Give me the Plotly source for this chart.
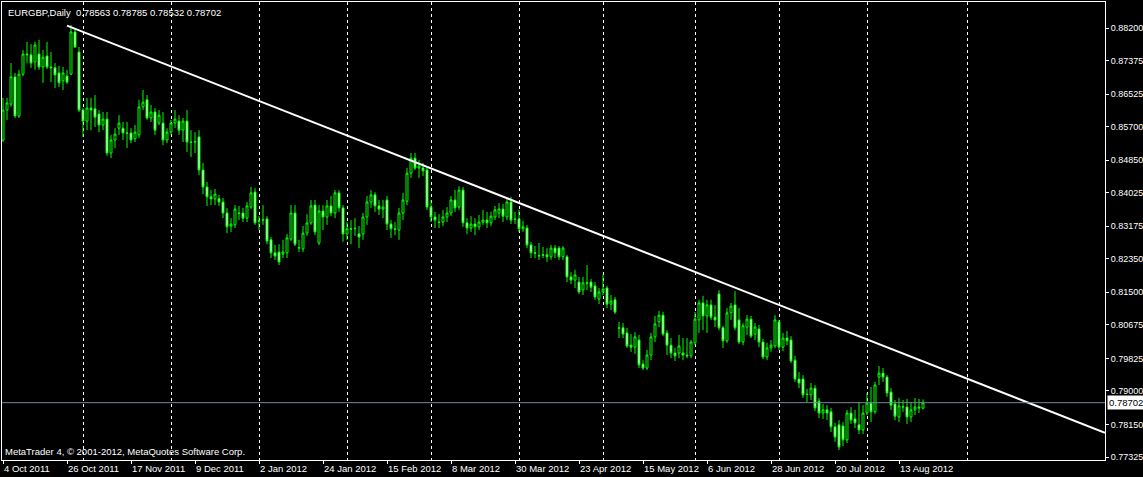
import pandas as pd
import plotly.graph_objects as go

symbol = "EURGBP,Daily"
first_date = "2011-10-04"

open_ = [
    0.8536, 0.8612, 0.8627, 0.8696, 0.8597, 0.8703, 0.8754, 0.8752, 0.8734, 0.8754,
    0.8721, 0.8749, 0.8721, 0.8719, 0.8706, 0.8686, 0.8698, 0.8703, 0.8810, 0.8759,
    0.8612, 0.8584, 0.8617, 0.8615, 0.8602, 0.8574, 0.8589, 0.8503, 0.8536, 0.8566,
    0.8566, 0.8554, 0.8554, 0.8539, 0.8549, 0.8620, 0.8638, 0.8592, 0.8607, 0.8579,
    0.8579, 0.8536, 0.8556, 0.8579, 0.8584, 0.8561, 0.8584, 0.8531, 0.8531, 0.8544,
    0.8460, 0.8417, 0.8392, 0.8387, 0.8387, 0.8379, 0.8351, 0.8318, 0.8321, 0.8351,
    0.8351, 0.8338, 0.8366, 0.8404, 0.8331, 0.8333, 0.8336, 0.8283, 0.8250, 0.8252,
    0.8247, 0.8250, 0.8285, 0.8351, 0.8262, 0.8260, 0.8300, 0.8326, 0.8371, 0.8275,
    0.8356, 0.8341, 0.8369, 0.8351, 0.8402, 0.8364, 0.8298, 0.8311, 0.8311, 0.8298,
    0.8298, 0.8341, 0.8379, 0.8397, 0.8369, 0.8361, 0.8384, 0.8323, 0.8311, 0.8308,
    0.8351, 0.8381, 0.8452, 0.8490, 0.8465, 0.8465, 0.8460, 0.8366, 0.8341, 0.8328,
    0.8328, 0.8341, 0.8351, 0.8384, 0.8366, 0.8409, 0.8326, 0.8313, 0.8323, 0.8316,
    0.8328, 0.8333, 0.8326, 0.8341, 0.8351, 0.8361, 0.8341, 0.8379, 0.8336, 0.8336,
    0.8311, 0.8313, 0.8270, 0.8250, 0.8242, 0.8245, 0.8245, 0.8240, 0.8262, 0.8262,
    0.8240, 0.8240, 0.8189, 0.8181, 0.8176, 0.8156, 0.8174, 0.8176, 0.8166, 0.8133,
    0.8151, 0.8161, 0.8120, 0.8131, 0.8060, 0.8060, 0.8047, 0.8016, 0.8011, 0.8029,
    0.7968, 0.7958, 0.7991, 0.8037, 0.8075, 0.8092, 0.8047, 0.8016, 0.7996, 0.7996,
    0.7996, 0.7991, 0.7989, 0.8022, 0.8080, 0.8123, 0.8090, 0.8118, 0.8087, 0.8146,
    0.8060, 0.8027, 0.8098, 0.8118, 0.8080, 0.8024, 0.8062, 0.8082, 0.8044, 0.8057,
    0.8024, 0.7986, 0.8009, 0.8014, 0.8075, 0.8011, 0.8034, 0.8029, 0.7978, 0.7930,
    0.7930, 0.7892, 0.7890, 0.7907, 0.7874, 0.7844, 0.7852, 0.7847, 0.7809, 0.7814,
    0.7811, 0.7776, 0.7844, 0.7829, 0.7814, 0.7801, 0.7844, 0.7869, 0.7847, 0.7935,
    0.7945, 0.7935, 0.7897, 0.7867, 0.7834, 0.7859, 0.7859, 0.7834, 0.7852, 0.7859,
    0.78563,
]

high = [
    0.8643, 0.8643, 0.8731, 0.8706, 0.8714, 0.8764, 0.8785, 0.8779, 0.8785, 0.8790,
    0.8764, 0.8785, 0.8759, 0.8731, 0.8724, 0.8721, 0.8714, 0.8828, 0.8820, 0.8772,
    0.8617, 0.8643, 0.8643, 0.8650, 0.8612, 0.8607, 0.8607, 0.8549, 0.8566, 0.8599,
    0.8582, 0.8582, 0.8566, 0.8574, 0.8638, 0.8663, 0.8650, 0.8625, 0.8617, 0.8612,
    0.8607, 0.8566, 0.8587, 0.8612, 0.8599, 0.8592, 0.8612, 0.8561, 0.8556, 0.8561,
    0.8478, 0.8430, 0.8409, 0.8412, 0.8397, 0.8389, 0.8364, 0.8338, 0.8371, 0.8369,
    0.8364, 0.8379, 0.8417, 0.8414, 0.8343, 0.8371, 0.8343, 0.8290, 0.8270, 0.8272,
    0.8283, 0.8298, 0.8371, 0.8371, 0.8283, 0.8318, 0.8348, 0.8384, 0.8384, 0.8371,
    0.8371, 0.8384, 0.8394, 0.8409, 0.8409, 0.8371, 0.8328, 0.8333, 0.8338, 0.8318,
    0.8351, 0.8394, 0.8409, 0.8404, 0.8384, 0.8384, 0.8394, 0.8333, 0.8328, 0.8364,
    0.8402, 0.8465, 0.8503, 0.8503, 0.8485, 0.8478, 0.8470, 0.8384, 0.8354, 0.8348,
    0.8359, 0.8366, 0.8394, 0.8409, 0.8419, 0.8417, 0.8338, 0.8343, 0.8338, 0.8346,
    0.8359, 0.8354, 0.8354, 0.8369, 0.8376, 0.8374, 0.8389, 0.8392, 0.8354, 0.8359,
    0.8331, 0.8321, 0.8278, 0.8267, 0.8275, 0.8265, 0.8262, 0.8270, 0.8270, 0.8267,
    0.8267, 0.8245, 0.8201, 0.8207, 0.8189, 0.8189, 0.8219, 0.8184, 0.8176, 0.8161,
    0.8196, 0.8166, 0.8143, 0.8138, 0.8075, 0.8072, 0.8060, 0.8044, 0.8049, 0.8042,
    0.7978, 0.8004, 0.8047, 0.8090, 0.8103, 0.8100, 0.8054, 0.8034, 0.8009, 0.8042,
    0.8034, 0.8034, 0.8029, 0.8100, 0.8131, 0.8141, 0.8131, 0.8131, 0.8118, 0.8156,
    0.8065, 0.8110, 0.8123, 0.8153, 0.8110, 0.8072, 0.8092, 0.8090, 0.8072, 0.8067,
    0.8032, 0.8022, 0.8029, 0.8092, 0.8080, 0.8047, 0.8052, 0.8039, 0.7989, 0.7948,
    0.7940, 0.7905, 0.7920, 0.7915, 0.7882, 0.7867, 0.7864, 0.7857, 0.7819, 0.7826,
    0.7821, 0.7852, 0.7859, 0.7852, 0.7872, 0.7864, 0.7895, 0.7910, 0.7923, 0.7963,
    0.7958, 0.7940, 0.7907, 0.7877, 0.7882, 0.7877, 0.7880, 0.7872, 0.7882, 0.7880,
    0.78785,
]

low = [
    0.8531, 0.8587, 0.8620, 0.8592, 0.8592, 0.8698, 0.8731, 0.8719, 0.8714, 0.8714,
    0.8681, 0.8716, 0.8683, 0.8668, 0.8670, 0.8663, 0.8678, 0.8701, 0.8769, 0.8607,
    0.8544, 0.8561, 0.8561, 0.8569, 0.8556, 0.8561, 0.8496, 0.8490, 0.8516, 0.8549,
    0.8536, 0.8516, 0.8528, 0.8531, 0.8541, 0.8612, 0.8587, 0.8582, 0.8549, 0.8574,
    0.8523, 0.8528, 0.8549, 0.8566, 0.8549, 0.8531, 0.8506, 0.8493, 0.8503, 0.8447,
    0.8399, 0.8369, 0.8371, 0.8371, 0.8369, 0.8338, 0.8300, 0.8303, 0.8313, 0.8333,
    0.8328, 0.8328, 0.8361, 0.8321, 0.8308, 0.8321, 0.8272, 0.8237, 0.8232, 0.8219,
    0.8237, 0.8237, 0.8280, 0.8267, 0.8252, 0.8252, 0.8293, 0.8321, 0.8295, 0.8270,
    0.8308, 0.8321, 0.8343, 0.8338, 0.8354, 0.8278, 0.8283, 0.8272, 0.8293, 0.8262,
    0.8283, 0.8321, 0.8364, 0.8354, 0.8346, 0.8338, 0.8308, 0.8288, 0.8295, 0.8283,
    0.8333, 0.8371, 0.8440, 0.8460, 0.8440, 0.8445, 0.8359, 0.8328, 0.8313, 0.8313,
    0.8318, 0.8328, 0.8343, 0.8354, 0.8359, 0.8316, 0.8298, 0.8303, 0.8295, 0.8308,
    0.8321, 0.8313, 0.8318, 0.8333, 0.8338, 0.8328, 0.8333, 0.8323, 0.8323, 0.8303,
    0.8303, 0.8262, 0.8237, 0.8237, 0.8232, 0.8237, 0.8227, 0.8232, 0.8237, 0.8232,
    0.8232, 0.8176, 0.8171, 0.8161, 0.8146, 0.8143, 0.8156, 0.8151, 0.8131, 0.8120,
    0.8143, 0.8110, 0.8105, 0.8095, 0.8034, 0.8034, 0.8009, 0.7999, 0.7994, 0.7958,
    0.7953, 0.7953, 0.7978, 0.8024, 0.8062, 0.8039, 0.7991, 0.7983, 0.7976, 0.7983,
    0.7978, 0.7983, 0.7983, 0.8016, 0.8047, 0.8054, 0.8047, 0.8080, 0.8062, 0.8054,
    0.8009, 0.8022, 0.8080, 0.8054, 0.8019, 0.8016, 0.8042, 0.8034, 0.8029, 0.8011,
    0.7981, 0.7978, 0.7999, 0.8009, 0.8004, 0.8001, 0.8016, 0.7971, 0.7923, 0.7907,
    0.7882, 0.7872, 0.7877, 0.7849, 0.7831, 0.7829, 0.7826, 0.7796, 0.7771, 0.7750,
    0.7760, 0.7768, 0.7816, 0.7806, 0.7791, 0.7791, 0.7839, 0.7821, 0.7842, 0.7915,
    0.7923, 0.7885, 0.7852, 0.7826, 0.7821, 0.7847, 0.7816, 0.7821, 0.7839, 0.7844,
    0.78532,
]

close = [
    0.8612, 0.8630, 0.8696, 0.8597, 0.8703, 0.8754, 0.8752, 0.8731, 0.8777, 0.8721,
    0.8746, 0.8721, 0.8719, 0.8701, 0.8681, 0.8706, 0.8683, 0.8810, 0.8772, 0.8612,
    0.8584, 0.8617, 0.8612, 0.8594, 0.8574, 0.8589, 0.8503, 0.8536, 0.8551, 0.8579,
    0.8554, 0.8553, 0.8536, 0.8556, 0.8620, 0.8632, 0.8592, 0.8607, 0.8561, 0.8599,
    0.8536, 0.8556, 0.8579, 0.8589, 0.8561, 0.8584, 0.8531, 0.8530, 0.8532, 0.8460,
    0.8417, 0.8392, 0.8387, 0.8399, 0.8379, 0.8351, 0.8316, 0.8323, 0.8361, 0.8350,
    0.8338, 0.8369, 0.8402, 0.8326, 0.8330, 0.8334, 0.8280, 0.8250, 0.8242, 0.8227,
    0.8252, 0.8288, 0.8351, 0.8272, 0.8263, 0.8300, 0.8326, 0.8369, 0.8303, 0.8356,
    0.8341, 0.8369, 0.8351, 0.8402, 0.8364, 0.8298, 0.8311, 0.8310, 0.8312, 0.8290,
    0.8341, 0.8379, 0.8397, 0.8369, 0.8361, 0.8366, 0.8323, 0.8311, 0.8310, 0.8351,
    0.8384, 0.8452, 0.8490, 0.8465, 0.8470, 0.8458, 0.8366, 0.8341, 0.8333, 0.8327,
    0.8341, 0.8351, 0.8384, 0.8364, 0.8409, 0.8326, 0.8313, 0.8323, 0.8316, 0.8328,
    0.8333, 0.8326, 0.8343, 0.8359, 0.8361, 0.8343, 0.8379, 0.8333, 0.8335, 0.8311,
    0.8316, 0.8270, 0.8250, 0.8249, 0.8243, 0.8244, 0.8240, 0.8262, 0.8250, 0.8240,
    0.8262, 0.8189, 0.8181, 0.8194, 0.8151, 0.8174, 0.8173, 0.8163, 0.8138, 0.8151,
    0.8158, 0.8120, 0.8128, 0.8100, 0.8059, 0.8044, 0.8014, 0.8011, 0.8037, 0.7966,
    0.7958, 0.7991, 0.8037, 0.8070, 0.8092, 0.8044, 0.8016, 0.7996, 0.7989, 0.8014,
    0.7991, 0.7989, 0.8024, 0.8082, 0.8123, 0.8090, 0.8118, 0.8087, 0.8080, 0.8060,
    0.8027, 0.8098, 0.8115, 0.8060, 0.8024, 0.8065, 0.8082, 0.8039, 0.8062, 0.8024,
    0.7986, 0.8009, 0.8016, 0.8080, 0.8011, 0.8034, 0.8027, 0.7976, 0.7930, 0.7920,
    0.7890, 0.7891, 0.7907, 0.7857, 0.7844, 0.7852, 0.7844, 0.7809, 0.7783, 0.7758,
    0.7776, 0.7844, 0.7826, 0.7819, 0.7801, 0.7844, 0.7869, 0.7847, 0.7915, 0.7945,
    0.7935, 0.7895, 0.7864, 0.7836, 0.7862, 0.7860, 0.7834, 0.7852, 0.7859, 0.7857,
    0.78702,
]

tick_labels = [
    "4 Oct 2011", "26 Oct 2011", "17 Nov 2011", "9 Dec 2011", "2 Jan 2012",
    "24 Jan 2012", "15 Feb 2012", "8 Mar 2012", "30 Mar 2012", "23 Apr 2012",
    "15 May 2012", "6 Jun 2012", "28 Jun 2012", "20 Jul 2012", "13 Aug 2012",
]

price_ticks = [0.88200, 0.87375, 0.86525, 0.85700, 0.84850, 0.84025, 0.83175,
               0.82350, 0.81500, 0.80675, 0.79825, 0.79000, 0.78150, 0.77325]

# trend line anchors (bar index, price)
trend_bars = [16, 275.5]
trend_prices = [0.8826, 0.7794]

copyright_text = "MetaTrader 4, \u00a9 2001-2012, MetaQuotes Software Corp."

# ---------------------------------------------------------------
n = len(close)
bars = list(range(n))
dates = pd.bdate_range(first_date, periods=n)

x_range = [-0.25, 275.5]
y_range = [0.77249, 0.88859]

# label positions: the bar whose date matches each label
date_to_bar = {f"{d.day} {d:%b %Y}": i for i, d in enumerate(dates)}
tick_bars = [date_to_bar[t] for t in tick_labels]

# month-start grid; a few future bars extrapolated by calendar day
all_dates = list(dates)
for k in range(1, 16):
    all_dates.append(dates[-1] + pd.Timedelta(days=k))
grid_bars = [i for i in range(1, len(all_dates))
             if all_dates[i].month != all_dates[i - 1].month]

LIME = "#00FF00"
FONT = "Liberation Sans, Arial, sans-serif"

fig = go.Figure()
fig.add_trace(go.Candlestick(
    x=bars, open=open_, high=high, low=low, close=close,
    increasing=dict(line=dict(color=LIME, width=1), fillcolor="#000000"),
    decreasing=dict(line=dict(color=LIME, width=1), fillcolor="#FFFFFF"),
    whiskerwidth=0, hoverinfo="skip", showlegend=False,
))
fig.add_trace(go.Scatter(
    x=trend_bars, y=trend_prices, mode="lines",
    line=dict(color="#FFFFFF", width=2), hoverinfo="skip", showlegend=False,
))

last_c = close[-1]
fig.add_shape(type="line", xref="paper", x0=0, x1=1, yref="y", y0=last_c, y1=last_c,
              line=dict(color="#778899", width=1), layer="above")

header = (f"{symbol}\u00a0\u00a0{open_[-1]:.5f} {high[-1]:.5f} "
          f"{low[-1]:.5f} {close[-1]:.5f}")
fig.add_annotation(xref="paper", yref="paper", x=0, y=1, xanchor="left", yanchor="top",
                   xshift=5, yshift=-4, text=header, showarrow=False, borderpad=0,
                   font=dict(color="#FFFFFF", size=9.5, family=FONT))
fig.add_annotation(xref="paper", yref="paper", x=0, y=0, xanchor="left", yanchor="bottom",
                   xshift=2, yshift=2, text=copyright_text, showarrow=False, borderpad=0,
                   font=dict(color="#FFFFFF", size=9.5, family=FONT))
fig.add_annotation(xref="paper", yref="y", x=1, y=last_c, xanchor="left", yanchor="middle",
                   xshift=2, text=f"{last_c:.5f}", showarrow=False, borderpad=1,
                   bgcolor="#FFFFFF", font=dict(color="#000000", size=9.5, family=FONT))

fig.update_layout(
    width=1143, height=477,
    margin=dict(l=2, r=38, t=2, b=17, pad=0, autoexpand=False),
    paper_bgcolor="#000000", plot_bgcolor="#000000",
    showlegend=False,
    font=dict(color="#FFFFFF", family=FONT, size=9.5),
    xaxis=dict(
        range=x_range, tickmode="array", tickvals=tick_bars, ticktext=tick_labels,
        ticks="outside", ticklen=3, tickcolor="#FFFFFF", tickwidth=1,
        ticklabelposition="outside right", ticklabelstandoff=0,
        showgrid=False, zeroline=False, showline=True, mirror=True,
        linecolor="#FFFFFF", linewidth=1, automargin=False,
        tickfont=dict(color="#FFFFFF", size=9.5, family=FONT),
        minor=dict(tickmode="array", tickvals=grid_bars, showgrid=True,
                   gridcolor="#FFFFFF", gridwidth=1, griddash="3px,3px", ticks=""),
        rangeslider=dict(visible=False), fixedrange=True,
    ),
    yaxis=dict(
        range=y_range, side="right", tickmode="array", tickvals=price_ticks,
        ticktext=[f"{v:.5f}" for v in price_ticks],
        ticks="outside", ticklen=3, tickcolor="#FFFFFF", tickwidth=1,
        ticklabelstandoff=0,
        showgrid=False, zeroline=False, showline=True, mirror=True,
        linecolor="#FFFFFF", linewidth=1, automargin=False,
        tickfont=dict(color="#FFFFFF", size=9, family=FONT), fixedrange=True,
    ),
)

fig.write_html(
    "out.html",
    config={"displayModeBar": False, "staticPlot": True},
    post_script="document.body.style.margin='0';document.body.style.padding='0';"
                "document.body.style.background='#000';"
                "document.body.style.overflow='hidden';",
)
